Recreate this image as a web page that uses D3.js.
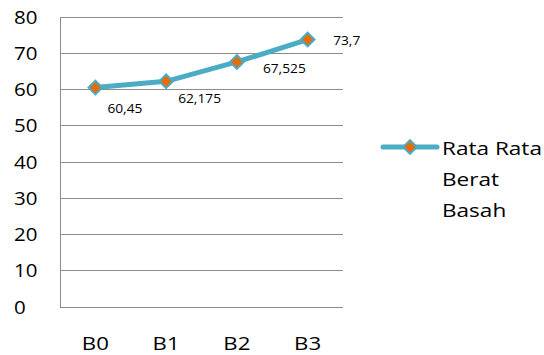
<!DOCTYPE html>
<html><head><meta charset="utf-8">
<script src="https://cdn.jsdelivr.net/npm/d3@7"></script>
<style>
html,body{margin:0;padding:0;background:#fff;}
svg{display:block;font-family:"Open Sans",sans-serif;}
</style></head>
<body>
<svg id="c" width="544" height="355"></svg>
<script>
const categories = ["B0","B1","B2","B3"];
const values = [60.45, 62.175, 67.525, 73.7];
const valueLabels = ["60,45","62,175","67,525","73,7"];
const yTicks = [0,10,20,30,40,50,60,70,80];
const seriesName = ["Rata Rata","Berat","Basah"];
const labelOffsets = [[12,25],[12,22],[26,11.5],[25.5,5.5]];

(function(){
const svg = d3.select("#c");
const pl = 60, pr = 343, pt = 16.7, pb = 306.7;
const x = d3.scaleBand().domain(categories).range([pl, pr]);
const y = d3.scaleLinear().domain([0,80]).range([pb, pt]);
const grid = "#8c8c8c";

svg.append("g").selectAll("line").data(yTicks).join("line")
  .attr("x1", pl).attr("x2", pr)
  .attr("y1", d => Math.round(y(d)) + 0.5).attr("y2", d => Math.round(y(d)) + 0.5)
  .attr("stroke", grid).attr("stroke-width", 1);
svg.append("line").attr("x1", pl + 0.5).attr("x2", pl + 0.5)
  .attr("y1", Math.round(pt)).attr("y2", Math.round(pb) + 1)
  .attr("stroke", grid);

// y tick labels
svg.append("g").selectAll("text").data(yTicks).join("text")
  .attr("transform", d => `translate(14,${y(d) + 7}) scale(1.08,1)`)
  .attr("font-size", 19).attr("fill", "#000")
  .text(d => d);

// x labels
svg.append("g").selectAll("text").data(categories).join("text")
  .attr("transform", d => `translate(${x(d) + x.bandwidth()/2},349.5) scale(1.17,1)`)
  .attr("text-anchor", "middle").attr("font-size", 19).attr("fill", "#000")
  .text(d => d);

const lineColor = "#4bacc6", markerColor = "#e46c0a";
const pts = categories.map((c,i) => [x(c) + x.bandwidth()/2, y(values[i])]);
svg.append("path").attr("d", d3.line()(pts))
  .attr("fill", "none").attr("stroke", lineColor).attr("stroke-width", 5)
  .attr("stroke-linejoin", "round").attr("stroke-linecap", "round");

const diamond = d3.symbol().type(d3.symbolDiamond2).size(120);
svg.append("g").selectAll("path").data(pts).join("path")
  .attr("transform", d => `translate(${d[0]},${d[1]})`)
  .attr("d", diamond())
  .attr("fill", markerColor).attr("stroke", lineColor).attr("stroke-width", 2);

// data labels
svg.append("g").selectAll("text").data(pts).join("text")
  .attr("transform", (d,i) => `translate(${d[0] + labelOffsets[i][0]},${d[1] + labelOffsets[i][1]}) scale(1.06,1)`)
  .attr("font-size", 13).attr("fill", "#000")
  .text((d,i) => valueLabels[i]);

// legend
const lg = svg.append("g");
lg.append("line").attr("x1", 383).attr("x2", 437).attr("y1", 147).attr("y2", 147)
  .attr("stroke", lineColor).attr("stroke-width", 5).attr("stroke-linecap", "round");
lg.append("path").attr("transform", "translate(410,147)").attr("d", diamond())
  .attr("fill", markerColor).attr("stroke", lineColor).attr("stroke-width", 2);
lg.selectAll("text").data(seriesName).join("text")
  .attr("transform", (d,i) => `translate(442,${155 + i*31}) scale(1.22,1)`)
  .attr("font-size", 18.5).attr("fill", "#000")
  .text(d => d);
})();
</script>
</body></html>
